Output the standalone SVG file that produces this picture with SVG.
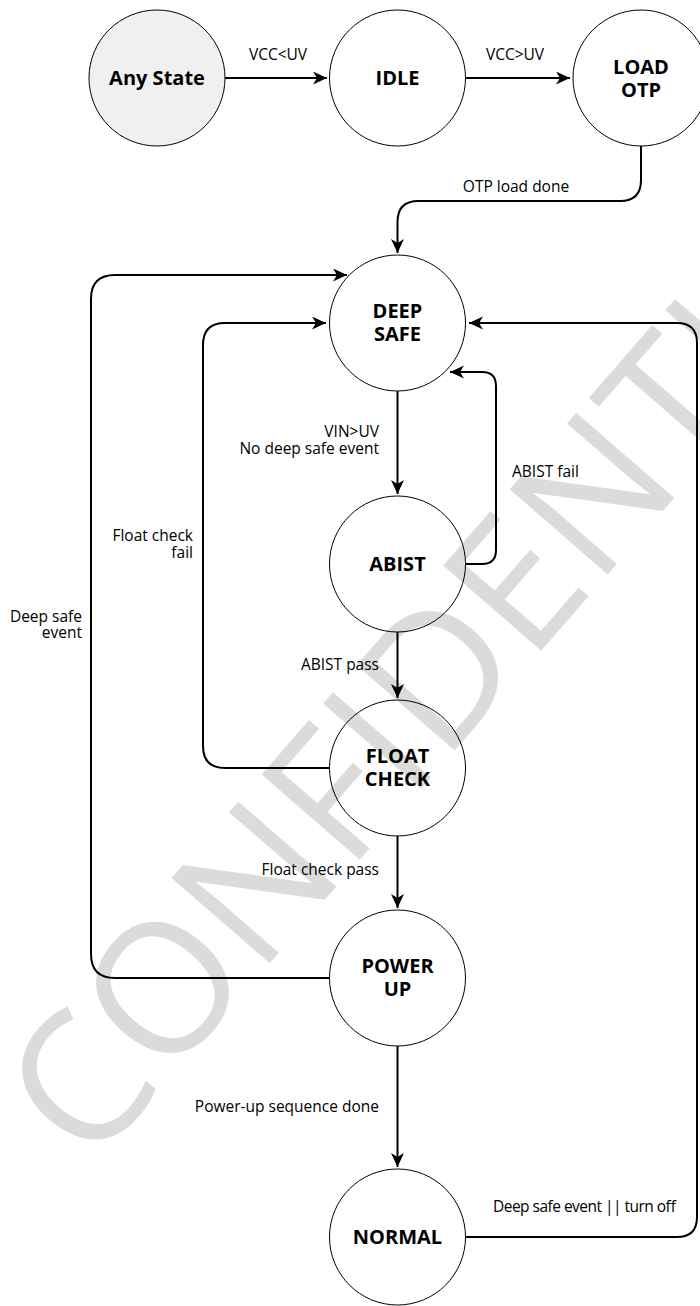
<svg xmlns="http://www.w3.org/2000/svg" width="700" height="1306" viewBox="0 0 700 1306">
<defs>
<marker id="arr" markerUnits="userSpaceOnUse" markerWidth="16" markerHeight="14" refX="14" refY="6.5" orient="auto">
<path d="M0,0 L14,6.5 L0,13 L4,6.5 Z" fill="#000"/>
</marker>
<style>
.node{fill:#fff;stroke:#000;stroke-width:1}
.start{fill:#f0f0f0}
.nl{font-family:"Open Sans","Noto Sans","Liberation Sans",sans-serif;font-weight:bold;font-size:20px;text-anchor:middle;fill:#000}
.lb{font-family:"Open Sans","Noto Sans","Liberation Sans",sans-serif;font-size:15.5px;fill:#000}
.r{text-anchor:end}
.m{text-anchor:middle}
.e{fill:none;stroke:#000;stroke-width:2;marker-end:url(#arr)}
.wm{font-family:"Open Sans","Noto Sans","Liberation Sans",sans-serif;font-size:182px;fill:#000;fill-opacity:0.14}
</style>
</defs>
<rect width="700" height="1306" fill="#fff"/>

<g id="any-state"><circle class="node start" cx="157" cy="78" r="68"/><text class="nl" x="157" y="85">Any State</text></g>
<g id="idle"><circle class="node" cx="397.5" cy="78" r="68"/><text class="nl" x="397.5" y="85">IDLE</text></g>
<g id="load-otp"><circle class="node" cx="641" cy="78" r="68"/><text class="nl" x="641" y="74">LOAD</text><text class="nl" x="641" y="97">OTP</text></g>
<g id="deep-safe"><circle class="node" cx="397.5" cy="323" r="68"/><text class="nl" x="397.5" y="318">DEEP</text><text class="nl" x="397.5" y="341">SAFE</text></g>
<g id="abist"><circle class="node" cx="397.5" cy="564" r="68"/><text class="nl" x="397.5" y="571">ABIST</text></g>
<g id="float-check"><circle class="node" cx="397.5" cy="768" r="68"/><text class="nl" x="397.5" y="763">FLOAT</text><text class="nl" x="397.5" y="786">CHECK</text></g>
<g id="power-up"><circle class="node" cx="397.5" cy="978" r="68"/><text class="nl" x="397.5" y="973">POWER</text><text class="nl" x="397.5" y="996">UP</text></g>
<g id="normal"><circle class="node" cx="397.5" cy="1237" r="68"/><text class="nl" x="397.5" y="1244">NORMAL</text></g>

<g id="connectors">
<path class="e" d="M225,78 H327"/>
<path class="e" d="M466,78 H570"/>
<path class="e" d="M641,146 V180 Q641,201 620,201 H418.5 Q397.5,201 397.5,222 V253"/>
<path class="e" d="M397.5,391 V494"/>
<path class="e" d="M397.5,632 V698"/>
<path class="e" d="M397.5,836 V908"/>
<path class="e" d="M397.5,1046 V1167"/>
<path class="e" d="M466,564 H482 Q496,564 496,550 V386 Q496,372 482,372 H450"/>
<path class="e" d="M329,768 H225 Q203,768 203,746 V345 Q203,323 225,323 H326"/>
<path class="e" d="M329,978 H115 Q91,978 91,954 V299 Q91,275 115,275 H347"/>
<path class="e" d="M466,1237 H677 Q697,1237 697,1217 V343 Q697,323 677,323 H469"/>
</g>

<g id="labels">
<text class="lb m" x="278" y="60">VCC&lt;UV</text>
<text class="lb m" x="515" y="60">VCC&gt;UV</text>
<text class="lb m" x="516" y="192">OTP load done</text>
<text class="lb r" x="379" y="437">VIN&gt;UV</text>
<text class="lb r" x="379" y="454">No deep safe event</text>
<text class="lb" x="512" y="477">ABIST fail</text>
<text class="lb r" x="193" y="541">Float check</text>
<text class="lb r" x="193" y="558">fail</text>
<text class="lb r" x="82" y="622">Deep safe</text>
<text class="lb r" x="82" y="638">event</text>
<text class="lb r" x="379" y="670">ABIST pass</text>
<text class="lb r" x="379" y="875">Float check pass</text>
<text class="lb r" x="379" y="1112">Power-up sequence done</text>
<text class="lb" x="493" y="1212" textLength="183" lengthAdjust="spacing">Deep safe event || turn off</text>
</g>

<g id="watermark">
<text class="wm" transform="translate(90,1170) rotate(-49)">CONFIDENTIAL</text>
</g>
</svg>
